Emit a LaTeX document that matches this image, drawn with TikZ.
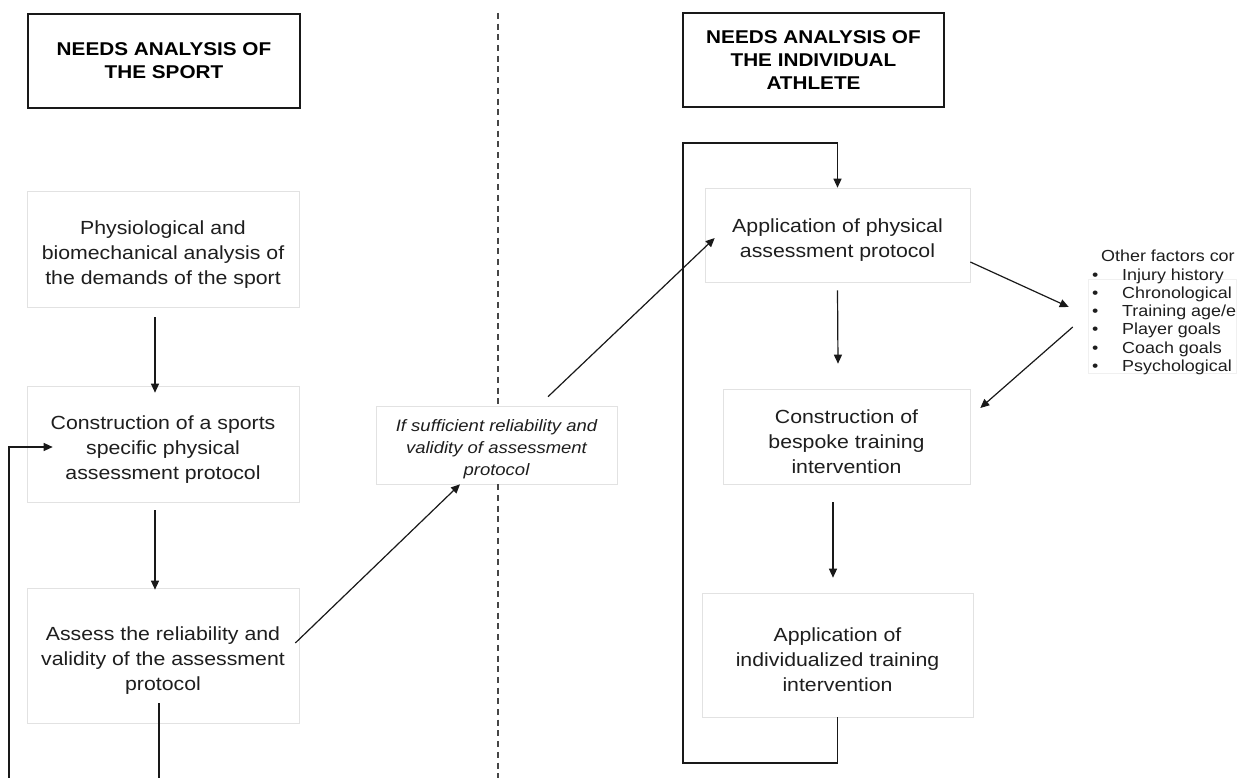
\documentclass[tikz,border=0pt]{standalone}
\usepackage{fontspec}
\setmainfont{Liberation Sans}[FakeStretch=1.12]
\usetikzlibrary{arrows.meta}
\definecolor{boxgray}{RGB}{226,226,226}
\definecolor{txt}{RGB}{30,30,30}
\definecolor{ln}{RGB}{25,25,25}
\definecolor{dashc}{RGB}{70,70,70}
\newcommand{\bul}{\makebox[30pt][l]{\textbullet}}
\newcommand{\tpA}{\rule{0pt}{24pt}}
\newcommand{\tpB}{\rule{0pt}{21pt}}
\tikzset{
  procbox/.style={draw=boxgray, fill=white, line width=0.6pt, align=center, inner sep=0pt, text=txt,
    font=\fontsize{19}{25}\selectfont},
  midbox/.style={procbox, font=\itshape\fontsize{16.5}{22}\selectfont},
  titlebox/.style={draw=ln, fill=white, line width=1.3pt, align=center, inner sep=0pt, text=black,
    font=\bfseries\fontsize{18.5}{23}\selectfont},
  arr/.style={draw=ln, line width=1.2pt, -{Triangle[length=9pt,width=8pt]}},
  plain/.style={draw=ln, line width=1.2pt},
  divider/.style={draw=dashc, line width=1.3pt, dash pattern=on 6pt off 4.7pt},
  factors/.style={align=left, inner sep=0pt, text=txt, font=\fontsize{16}{18.3}\selectfont}
}
\begin{document}
\begin{tikzpicture}[x=1pt,y=-1pt]
\fill[white] (0,0) rectangle (1250,778);
\useasboundingbox (0,0) rectangle (1250,778);

\coordinate (d1) at (498,13);
\coordinate (d2) at (498,778);

% middle box
\node[midbox, minimum width=241pt, minimum height=78pt] (M) at (496.5,445)
  {\tpB If sufficient reliability and\\validity of assessment\\protocol};
% divider, interrupted by the middle box
\draw[divider] (d1) -- (d1 |- M.north);
\draw[divider] (d2 |- M.south) -- (d2);

% titles
\node[titlebox, minimum width=272pt, minimum height=94pt] (TL) at (164,61)
  {NEEDS ANALYSIS OF\\THE SPORT};
\node[titlebox, minimum width=261pt, minimum height=94pt] (TR) at (813.5,60)
  {NEEDS ANALYSIS OF\\THE INDIVIDUAL\\ATHLETE};

% left column
\node[procbox, minimum width=272pt, minimum height=116pt] (L1) at (163,249)
  {\tpA Physiological and\\biomechanical analysis of\\the demands of the sport};
\node[procbox, minimum width=272pt, minimum height=116pt] (L2) at (163,444)
  {\tpA Construction of a sports\\specific physical\\assessment protocol};
\node[procbox, minimum width=272pt, minimum height=135pt] (L3) at (163,655.5)
  {\tpA Assess the reliability and\\validity of the assessment\\protocol};

% right column
\node[procbox, minimum width=265pt, minimum height=94pt] (R1) at (837.5,235)
  {\tpA Application of physical\\assessment protocol};
\node[procbox, minimum width=247pt, minimum height=95pt] (R2) at (846.5,436.5)
  {\tpA Construction of\\bespoke training\\intervention};
\node[procbox, minimum width=271pt, minimum height=124pt] (R3) at (837.5,655)
  {\tpA Application of\\individualized training\\intervention};

% factors
\node[draw=boxgray!50, line width=0.5pt, minimum width=148pt, minimum height=94pt, inner sep=0pt] (F) at (1162,326) {};
\begin{scope}
\clip (1080,240) rectangle (1237,385);
\node[factors, anchor=north west] (FT) at (1092,250)
  {\hspace*{9pt}Other factors cor\\
   \bul Injury history\\
   \bul Chronological\\
   \bul Training age/e\\
   \bul Player goals\\
   \bul Coach goals\\
   \bul Psychological};
\end{scope}

% left connectors
\draw[arr] ([xshift=-8pt,yshift=-10pt]L1.south) -- ([xshift=-8pt,yshift=-7pt]L2.north);
\draw[arr] ([xshift=-8pt,yshift=-8pt]L2.south) -- ([xshift=-8pt,yshift=-2pt]L3.north);
\coordinate (lbot) at (159,778);
\draw[plain] ([xshift=-4pt,yshift=20pt]L3.south) -- (lbot);
\coordinate (fb) at (9,778);
\draw[arr] (fb) |- ([xshift=26pt,yshift=-3pt]L2.west);

% diagonals
\draw[arr] ([xshift=-4pt,yshift=12.5pt]L3.east) -- ([xshift=-36.5pt]M.south);
\draw[arr] ([xshift=51.5pt,yshift=9pt]M.north) -- ([xshift=10pt,yshift=-3pt]R1.west);

% right column connectors
\draw[arr] ([yshift=-8pt]R1.south) -- ([xshift=-8.5pt,yshift=25pt]R2.north);
\draw[arr] ([xshift=-13.5pt,yshift=-18pt]R2.south) -- ([xshift=-4.5pt,yshift=15pt]R3.north);

% loop
\coordinate (lb) at (683,763);
\coordinate (lt) at (683,143);
\draw[arr] (R3.south) |- (lb) -- (lt) -| (R1.north);

% factors arrows
\draw[arr] ([yshift=-27pt]R1.east) -- ([xshift=-19pt,yshift=19pt]F.west);
\draw[arr] ([xshift=-15pt,yshift=-1pt]F.west) -- ([xshift=10pt,yshift=28.5pt]R2.east);
\end{tikzpicture}
\end{document}
